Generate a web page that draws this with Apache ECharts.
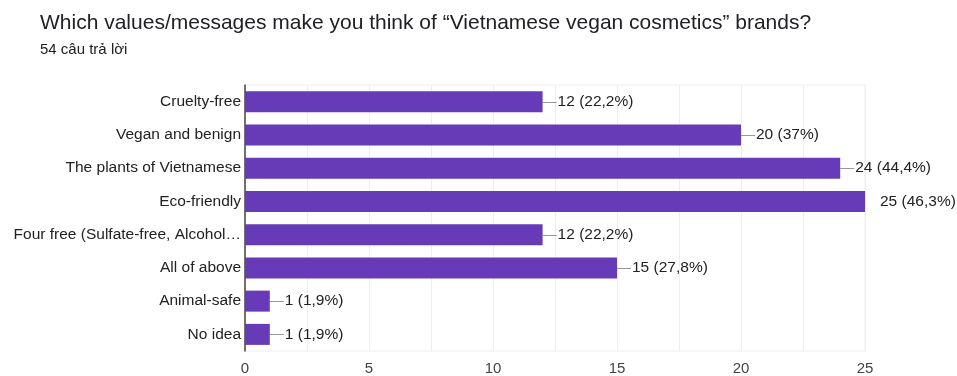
<!DOCTYPE html>
<html>
<head>
<meta charset="utf-8">
<script src="https://cdn.jsdelivr.net/npm/echarts@6/dist/echarts.min.js"></script>
<style>
  html, body { margin: 0; padding: 0; background: #fff; }
  #chart { width: 957px; height: 376px; }
</style>
</head>
<body>
<div id="chart"></div>
<script>
// Survey question and response count
const titleText = 'Which values/messages make you think of \u201cVietnamese vegan cosmetics\u201d brands?';
const subtitleText = '54 câu trả lời';

// Answer options, top to bottom
const categories = [
  'Cruelty-free',
  'Vegan and benign',
  'The plants of Vietnamese',
  'Eco-friendly',
  'Four free (Sulfate-free, Alcohol\u2026',
  'All of above',
  'Animal-safe',
  'No idea'
];

// Number of respondents per option and their share
const counts = [12, 20, 24, 25, 12, 15, 1, 1];
const percents = ['22,2%', '37%', '44,4%', '46,3%', '22,2%', '27,8%', '1,9%', '1,9%'];

const axisMax = 25;
const leaderLen = 14;
const font = 'Liberation Sans, Arial, sans-serif';

const chart = echarts.init(document.getElementById('chart'), null, { renderer: 'canvas' });

chart.setOption({
  animation: false,
  backgroundColor: '#fff',
  title: [
    {
      text: titleText,
      left: 35, top: 8,
      textStyle: { fontFamily: font, fontSize: 21, fontWeight: 'normal', color: '#202124' }
    },
    {
      text: subtitleText,
      left: 35, top: 37,
      textStyle: { fontFamily: font, fontSize: 15, fontWeight: 'normal', color: '#202124' }
    }
  ],
  grid: {
    left: 245, right: 92, top: 85, bottom: 25,
    show: true, borderColor: '#eeeeee', borderWidth: 1
  },
  xAxis: {
    type: 'value',
    min: 0, max: axisMax, interval: 5,
    axisLine: { show: false },
    axisTick: { show: false },
    minorTick: { show: false, splitNumber: 2 },
    minorSplitLine: { show: true, lineStyle: { color: '#eeeeee', width: 1 } },
    splitLine: { show: true, lineStyle: { color: '#eeeeee', width: 1 } },
    axisLabel: {
      margin: 10,
      fontFamily: font, fontSize: 15, color: '#444'
    }
  },
  yAxis: {
    type: 'category',
    inverse: true,
    data: categories,
    axisLine: { show: true, lineStyle: { color: '#444', width: 1.5 } },
    axisTick: { show: false },
    axisLabel: {
      margin: 4,
      fontFamily: font, fontSize: 15.5, color: '#222'
    }
  },
  series: [
    {
      type: 'bar',
      data: counts,
      barWidth: 21,
      itemStyle: { color: '#673ab7' },
      label: {
        show: true,
        position: 'right',
        distance: 15,
        fontFamily: font, fontSize: 15.5, color: '#222',
        formatter: p => p.value + ' (' + percents[p.dataIndex] + ')'
      },
      z: 3
    },
    {
      // short leader line from each bar end to its value label
      type: 'custom',
      data: counts.map((v, i) => [v, i]),
      encode: { x: 0, y: 1 },
      silent: true,
      z: 2,
      renderItem: (params, api) => {
        const v = api.value(0);
        if (v >= axisMax) return null;
        const p = api.coord([v, api.value(1)]);
        return {
          type: 'line',
          shape: { x1: p[0], y1: Math.round(p[1]) + 0.5, x2: p[0] + leaderLen, y2: Math.round(p[1]) + 0.5 },
          style: { stroke: '#999', lineWidth: 1 }
        };
      }
    }
  ]
});
</script>
</body>
</html>
